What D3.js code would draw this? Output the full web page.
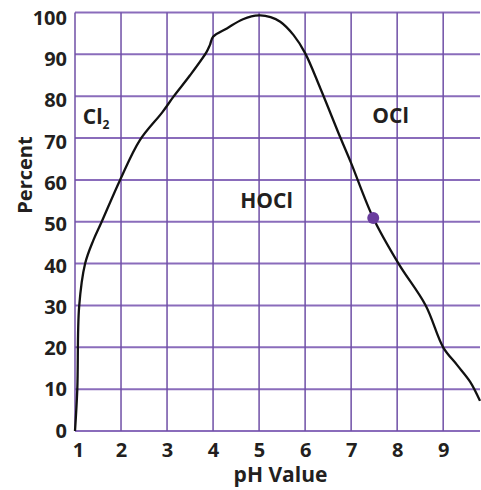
<!DOCTYPE html>
<html>
<head>
<meta charset="utf-8">
<title>Chlorine species vs pH</title>
<script src="https://cdn.jsdelivr.net/npm/d3@7"></script>
<style>
  body { margin: 0; background: #fff; }
  text { font-family: "Open Sans", "DejaVu Sans", sans-serif; font-weight: bold; fill: #231f20; }
</style>
</head>
<body>
<div id="chart"></div>
<script>
// curve (pH, percent HOCl)
var phValues  = [1.0, 1.05, 1.09, 1.22, 1.4, 1.58, 1.98, 2.41, 2.9, 3.14, 3.5, 3.86, 3.93, 4.0, 4.3, 4.65, 5.0, 5.25, 5.46, 5.75, 6.0, 6.33, 6.77, 7.0, 7.48, 8.03, 8.62, 9.0, 9.3, 9.59, 9.8];
var percent   = [0,   10,   29.7, 40,   45.6, 50,   60,   69.5, 76.2, 79.9, 85,  90.6, 92.2, 94.2, 96.2, 98.4, 99.3, 98.9, 97.8, 94.6, 90.3, 81.9, 70,   64,   50.9, 40,   30,   20,   15.8, 11.7, 7.2];
var xTicks = [1, 2, 3, 4, 5, 6, 7, 8, 9];
var yTicks = [0, 10, 20, 30, 40, 50, 60, 70, 80, 90, 100];
var marker = [7.48, 50.9];
var labels = [
  { name: "Cl", sub: "2", x: 1.17, y: 73.3 },
  { name: "HOCl", x: 4.59, y: 53.3 },
  { name: "OCl", x: 7.46, y: 73.6 }
];

var width = 481, height = 490;
var margin = { top: 12.5, right: 1, bottom: 59, left: 75 };

var svg = d3.select("#chart").append("svg")
  .attr("width", width)
  .attr("height", height);

var x = d3.scaleLinear().domain([1, 9.8]).range([margin.left, width - margin.right]);
var y = d3.scaleLinear().domain([0, 100]).range([height - margin.bottom, margin.top]);
// the tick labels sit on a slightly tighter spacing than the grid
var yLab = d3.scaleLinear().domain([0, 100]).range([430, 17]);

// grid
svg.selectAll("line.h").data(yTicks).enter().append("line")
  .attr("class", "h")
  .attr("x1", x(1)).attr("x2", x(9.8))
  .attr("y1", function(d) { return y(d); })
  .attr("y2", function(d) { return y(d); })
  .style("stroke", "#8a6cbb")
  .style("stroke-width", 2);

svg.selectAll("line.v").data(xTicks).enter().append("line")
  .attr("class", "v")
  .attr("x1", function(d) { return x(d); })
  .attr("x2", function(d) { return x(d); })
  .attr("y1", y(0)).attr("y2", y(100))
  .style("stroke", "#6f4fa6")
  .style("stroke-width", 1.5);

// axes (labels only)
var xAxis = svg.append("g")
  .attr("transform", "translate(0," + y(0) + ")")
  .call(d3.axisBottom(x).tickValues(xTicks).tickSize(0).tickFormat(d3.format("d")));
var yAxis = svg.append("g")
  .attr("transform", "translate(" + x(1) + ",0)")
  .call(d3.axisLeft(yLab).tickValues(yTicks).tickSize(0).tickPadding(8).tickFormat(d3.format("d")));
[xAxis, yAxis].forEach(function(a) {
  a.select(".domain").remove();
  a.selectAll("text").style("font-size", "20px").style("font-family", null).attr("fill", null);
});
yAxis.selectAll("text").attr("dy", "0.36em");
xAxis.selectAll("text").attr("y", 25.7).attr("dy", 0);
xAxis.selectAll(".tick").filter(function(d) { return d === 1; })
  .select("text").attr("dx", 3);

// axis titles
svg.append("text")
  .attr("x", 280.5).attr("y", 482)
  .attr("text-anchor", "middle")
  .style("font-size", "21px")
  .text("pH Value");

svg.append("text")
  .attr("transform", "translate(32,175) rotate(-90)")
  .attr("text-anchor", "middle")
  .style("font-size", "20px")
  .text("Percent");

// curve
var pts = phValues.map(function(d, i) { return [d, percent[i]]; });
var line = d3.line()
  .x(function(d) { return x(d[0]); })
  .y(function(d) { return y(d[1]); })
  .curve(d3.curveCatmullRom.alpha(0.5));

svg.append("path")
  .datum(pts)
  .attr("d", line)
  .style("fill", "none")
  .style("stroke", "#111")
  .style("stroke-width", 2.3);

svg.append("circle")
  .attr("cx", x(marker[0]))
  .attr("cy", y(marker[1]))
  .attr("r", 6)
  .style("fill", "#6a3d9e");

// region labels
labels.forEach(function(l) {
  var t = svg.append("text")
    .attr("x", x(l.x)).attr("y", y(l.y))
    .style("font-size", "21px")
    .text(l.name);
  if (l.sub) {
    t.append("tspan").attr("dy", 5).style("font-size", "12px").text(l.sub);
  }
});
</script>
</body>
</html>
